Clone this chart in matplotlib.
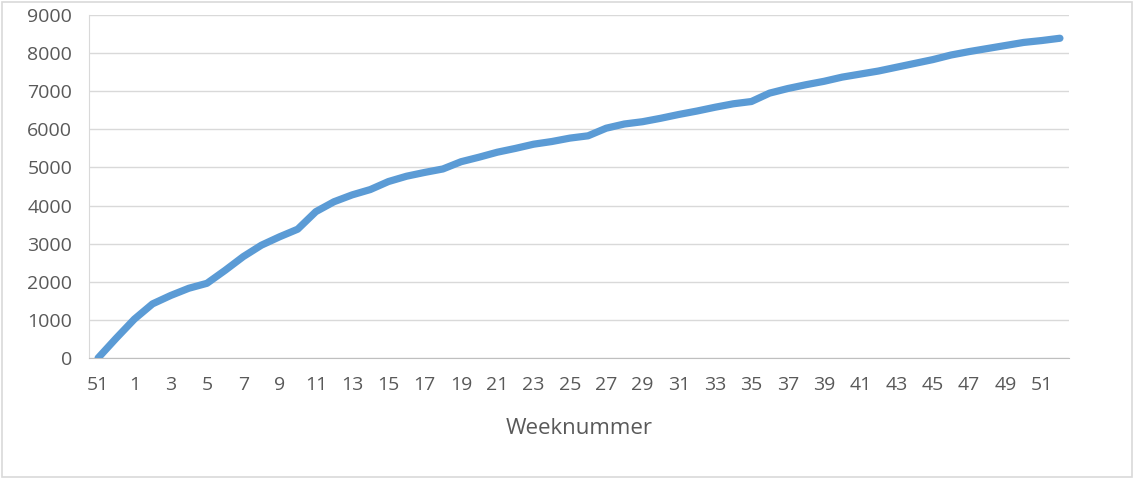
import matplotlib
matplotlib.use("Agg")
import matplotlib.pyplot as plt
from matplotlib.patches import Rectangle

# week numbers (end of previous year, then the whole year)
weeks = [51, 52] + list(range(1, 53))

# cumulative count per week
cumulative = [
    0, 520, 1020, 1420, 1640, 1830, 1960, 2300, 2660, 2960, 3180, 3380,
    3840, 4100, 4280, 4420, 4630, 4770, 4870, 4960, 5150, 5270, 5400,
    5500, 5610, 5680, 5770, 5830, 6030, 6140, 6200, 6290, 6390, 6480,
    6580, 6670, 6730, 6950, 7070, 7170, 7260, 7370, 7450, 7530, 7630,
    7730, 7830, 7950, 8040, 8120, 8200, 8280, 8330, 8390,
]

yticks = list(range(0, 9001, 1000))
text_color = "#595959"
grid_color = "#D9D9D9"
line_color = "#5B9BD5"

plt.rcParams["font.family"] = ["Open Sans", "DejaVu Sans"]

fig = plt.figure(figsize=(11.34, 4.79), dpi=100)
ax = fig.add_axes([89 / 1134, 1 - 358 / 479, (1069 - 89) / 1134, (358 - 15) / 479])

x = list(range(len(weeks)))
ax.plot(x, cumulative, color=line_color, linewidth=5.2,
        solid_capstyle="round", solid_joinstyle="round", zorder=3)

ax.set_xlim(-0.5, len(weeks) - 0.5)
ax.set_ylim(0, 9000)
ax.set_yticks(yticks)
ax.set_yticklabels([str(v) for v in yticks])
ax.set_xticks(x[::2])
ax.set_xticklabels([str(w) for w in weeks[::2]])

ax.grid(axis="y", color=grid_color, linewidth=1.0)
ax.set_axisbelow(True)
for side in ["top", "right"]:
    ax.spines[side].set_visible(False)
ax.spines["bottom"].set_color("#BFBFBF")
ax.spines["left"].set_color(grid_color)
ax.tick_params(axis="both", length=0, labelsize=14, colors=text_color)
ax.tick_params(axis="y", pad=12)
ax.tick_params(axis="x", pad=13)

ax.set_xlabel("Weeknummer", fontsize=16, color=text_color, labelpad=17)

# light border around the chart area
fig.patches.append(Rectangle((2 / 1134, 2 / 479), 1130 / 1134, 475 / 479,
                             transform=fig.transFigure, fill=False,
                             edgecolor="#D9D9D9", linewidth=1.2))

fig.savefig("out.png", dpi=100)
